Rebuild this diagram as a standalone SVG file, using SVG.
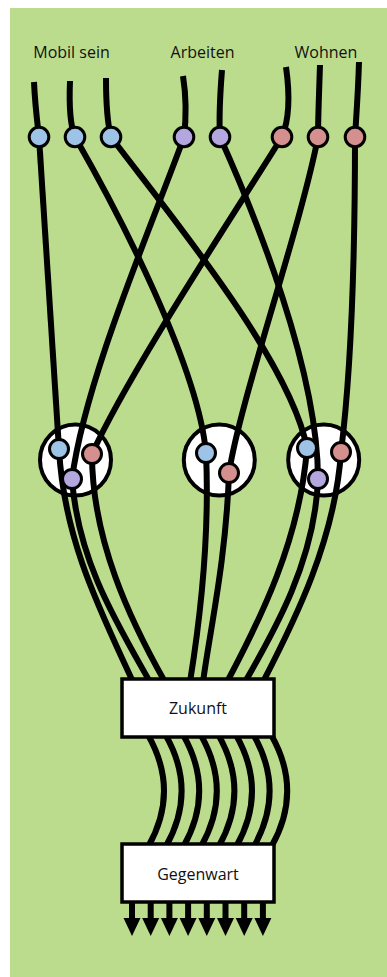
<svg xmlns="http://www.w3.org/2000/svg" width="387" height="977" viewBox="0 0 387 977">
<defs>
<style>
.bg{fill:#BBDC8C}
.ln{fill:none;stroke:#000;stroke-width:6}
.hub{fill:#fff;stroke:#000;stroke-width:4}
.box{fill:#fff;stroke:#000;stroke-width:3.5}
.dot{stroke:#000;stroke-width:3}
.b{fill:#9DC3E6}
.p{fill:#B4A7DF}
.r{fill:#D58F8F}
text{font-family:"Open Sans","Liberation Sans",sans-serif;font-size:16px;fill:#111;text-anchor:middle}
</style>
<marker id="ah" markerUnits="userSpaceOnUse" viewBox="0 -9 18 18" markerWidth="18" markerHeight="18" refX="0" refY="0" orient="auto">
<path d="M0,-8.5 L18,0 L0,8.5 Z" fill="#000"/>
</marker>
</defs>
<rect class="bg" x="10" y="8" width="377" height="969"/>

<g id="labels">
<text x="71.5" y="58">Mobil sein</text>
<text x="202.5" y="58">Arbeiten</text>
<text x="326" y="58">Wohnen</text>
</g>

<g id="hub1"><circle class="hub" cx="75.5" cy="460" r="35.5"/></g>
<g id="hub2"><circle class="hub" cx="219.3" cy="460" r="35.5"/></g>
<g id="hub3"><circle class="hub" cx="323.7" cy="460" r="35.5"/></g>

<g id="connectors">
<path class="ln" d="M34,82 C35,105 37,120 39,137"/>
<path class="ln" d="M70,81 C69,105 70,125 75,137"/>
<path class="ln" d="M106,78 C106,100 107,122 111,137"/>
<path class="ln" d="M183,76 C186,95 186,120 184,137"/>
<path class="ln" d="M222,70 C220,95 219,120 220,137"/>
<path class="ln" d="M286,67 C290,95 289,120 282,137"/>
<path class="ln" d="M320,65 C319,95 318,120 318,137"/>
<path class="ln" d="M359,62 C358,95 356,120 355,137"/>

<path class="ln" d="M39,137 L59,449"/>
<path class="ln" d="M75,137 C118,212 198,365 206,453"/>
<path class="ln" d="M111,137 C170,215 290,360 307,448"/>
<path class="ln" d="M184,137 C150,230 85,380 72,479"/>
<path class="ln" d="M220,137 C255,215 318,370 318,479"/>
<path class="ln" d="M282,137 C240,205 130,370 92,454"/>
<path class="ln" d="M318,137 C300,230 240,400 229,473"/>
<path class="ln" d="M355,137 C355,280 350,380 341,452"/>

<path class="ln" d="M59,449 C64,540 100,610 133,682"/>
<path class="ln" d="M72,479 C78,560 115,620 150,682"/>
<path class="ln" d="M92,454 C92,540 130,620 165,682"/>
<path class="ln" d="M206,453 C210,540 200,620 190,682"/>
<path class="ln" d="M229,473 C226,560 210,630 203,682"/>
<path class="ln" d="M307,448 C300,540 260,620 227,682"/>
<path class="ln" d="M318,479 C315,560 275,630 245,682"/>
<path class="ln" d="M341,452 C335,540 295,620 263,682"/>

<path class="ln" d="M148,735 Q180,791 148,847"/>
<path class="ln" d="M165.6,735 Q197.6,791 165.6,847"/>
<path class="ln" d="M183.2,735 Q215.2,791 183.2,847"/>
<path class="ln" d="M200.8,735 Q232.8,791 200.8,847"/>
<path class="ln" d="M218.4,735 Q250.4,791 218.4,847"/>
<path class="ln" d="M236,735 Q268,791 236,847"/>
<path class="ln" d="M253.6,735 Q285.6,791 253.6,847"/>
<path class="ln" d="M271.2,735 Q303.2,791 271.2,847"/>

<path class="ln" d="M132,900 V918" marker-end="url(#ah)"/>
<path class="ln" d="M150.7,900 V918" marker-end="url(#ah)"/>
<path class="ln" d="M169.4,900 V918" marker-end="url(#ah)"/>
<path class="ln" d="M188.1,900 V918" marker-end="url(#ah)"/>
<path class="ln" d="M206.8,900 V918" marker-end="url(#ah)"/>
<path class="ln" d="M225.5,900 V918" marker-end="url(#ah)"/>
<path class="ln" d="M244.2,900 V918" marker-end="url(#ah)"/>
<path class="ln" d="M262.9,900 V918" marker-end="url(#ah)"/>
</g>

<g id="top-dots">
<circle class="dot b" cx="39" cy="137" r="9.8"/>
<circle class="dot b" cx="75" cy="137" r="9.8"/>
<circle class="dot b" cx="111" cy="137" r="9.8"/>
<circle class="dot p" cx="184" cy="137" r="9.8"/>
<circle class="dot p" cx="220" cy="137" r="9.8"/>
<circle class="dot r" cx="282" cy="137" r="9.8"/>
<circle class="dot r" cx="318" cy="137" r="9.8"/>
<circle class="dot r" cx="355" cy="137" r="9.8"/>
</g>

<g id="hub-dots">
<circle class="dot b" cx="59" cy="449" r="9.5"/>
<circle class="dot r" cx="92" cy="454" r="9.5"/>
<circle class="dot p" cx="72" cy="479" r="9.5"/>
<circle class="dot b" cx="206" cy="453" r="9.5"/>
<circle class="dot r" cx="229" cy="473" r="9.5"/>
<circle class="dot b" cx="307" cy="448" r="9.5"/>
<circle class="dot r" cx="341" cy="452" r="9.5"/>
<circle class="dot p" cx="318" cy="479" r="9.5"/>
</g>

<g id="zukunft">
<rect class="box" x="122" y="679" width="152" height="58"/>
<text x="198" y="714">Zukunft</text>
</g>

<g id="gegenwart">
<rect class="box" x="122" y="844" width="152" height="58"/>
<text x="198" y="880">Gegenwart</text>
</g>
</svg>
